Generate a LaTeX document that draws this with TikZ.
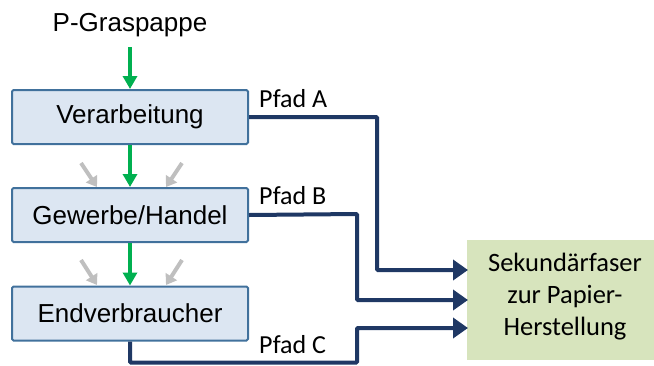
\documentclass[tikz,border=0pt]{standalone}
\usepackage{fontspec}
\setmainfont{Liberation Sans}
\newfontfamily\calib{Carlito}
\usetikzlibrary{arrows.meta}
\definecolor{boxfill}{HTML}{DCE6F2}
\definecolor{boxdraw}{HTML}{41719C}
\definecolor{greenarr}{HTML}{00B050}
\definecolor{grayarr}{HTML}{BFBFBF}
\definecolor{pathblue}{HTML}{1F3864}
\definecolor{outfill}{HTML}{D7E4BD}
\tikzset{
  stagebox/.style={draw=boxdraw, line width=2pt, fill=boxfill, rounded corners=1.5pt,
    minimum width=236pt, minimum height=54pt, inner sep=0pt,
    font=\fontsize{26}{30}\selectfont},
  outbox/.style={fill=outfill, minimum width=187pt, minimum height=120pt, inner sep=0pt},
  greenflow/.style={draw=greenarr, line width=4pt, -{Triangle[length=13pt,width=14pt]}},
  grayflow/.style={draw=grayarr, line width=4pt, -{Triangle[length=10pt,width=13pt]}},
  pathline/.style={draw=pathblue, line width=4pt, rounded corners=1pt,
    -{Triangle[length=15pt,width=20pt]}},
  pathlabel/.style={font=\calib\fontsize{26}{30}\selectfont, anchor=base west, inner sep=0pt},
}
\begin{document}
\begin{tikzpicture}[x=1pt,y=-1pt]
\useasboundingbox (0,0) rectangle (654,365);
\node[font=\fontsize{26}{30}\selectfont, anchor=base] (src) at (130,31) {P-Graspappe};
\node[stagebox] (ver) at (130,117) {Verarbeitung};
\node[stagebox] (gew) at (130,215) {Gewerbe/Handel};
\node[stagebox] (end) at (130,313.5) {Endverbraucher};
\node[outbox] (out) at (560.5,300) {};
\node[font=\calib\fontsize{26.5}{32}\selectfont, align=center, inner sep=0pt] (outtxt) at (565,297) {Sekundärfaser\\zur Papier-\\Herstellung};

\coordinate (gs) at (130,47);
\draw[greenflow] (gs) -- (ver.north);
\draw[greenflow] (ver.south) -- (gew.north);
\draw[greenflow] (gew.south) -- (end.north);

\coordinate (g1a) at (81,163); \coordinate (g1b) at (97,187);
\coordinate (g2a) at (182,163); \coordinate (g2b) at (166,187);
\coordinate (g3a) at (81,260); \coordinate (g3b) at (97,285);
\coordinate (g4a) at (182,260); \coordinate (g4b) at (166,285);
\draw[grayflow] (g1a) -- (g1b);
\draw[grayflow] (g2a) -- (g2b);
\draw[grayflow] (g3a) -- (g3b);
\draw[grayflow] (g4a) -- (g4b);

\coordinate (ta) at (468,270);
\coordinate (tb) at (468,300);
\coordinate (tc) at (468,328);
\draw[pathline] (ver.east) -- (377,117) -- (377,270) -- (ta);
\draw[pathline] (gew.east) -- (357,214) -- (357,300) -- (tb);
\draw[pathline] (end.south) -- (130,362.5) -- (357,362.5) -- (357,328) -- (tc);

\node[pathlabel] (la) at (259,107) {Pfad A};
\node[pathlabel] (lb) at (259,204) {Pfad B};
\node[pathlabel] (lc) at (259,353) {Pfad C};
\end{tikzpicture}
\end{document}
